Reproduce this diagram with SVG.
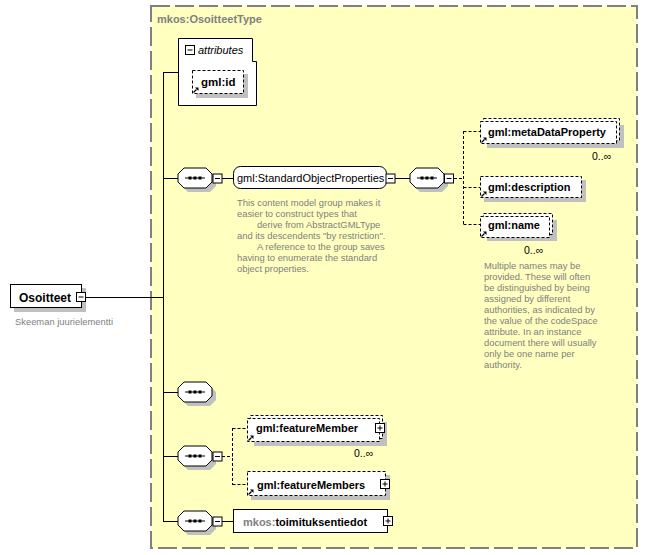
<svg xmlns="http://www.w3.org/2000/svg" xmlns:xlink="http://www.w3.org/1999/xlink" width="649" height="555" viewBox="0 0 649 555">
<style>
.lbl{font-family:"Liberation Sans",Arial,sans-serif;font-size:11px;fill:#000}
.b{font-weight:bold}
.desc{font-family:"Liberation Sans",Arial,sans-serif;font-size:9.4px;fill:#808080}
.card{font-family:"Liberation Sans",Arial,sans-serif;font-size:10.5px;fill:#000}
.ln{stroke:#000;stroke-width:1;fill:none}
.dl{stroke:#000;stroke-width:1;fill:none;stroke-dasharray:3,2}
.box{fill:#fff;stroke:#000;stroke-width:1}
.dbox{fill:#fff;stroke:#000;stroke-width:1;stroke-dasharray:3,2}
.sh{fill:#c0c0c0}
</style>
<defs>
<g id="seq">
<polygon class="sh" points="10,4 32,4 38,10 38,18 32,24 10,24 4,18 4,10"/>
<polygon class="box" points="6,0 28,0 34,6 34,14 28,20 6,20 0,14 0,6"/>
<line x1="7" y1="10" x2="27" y2="10" stroke="#000" stroke-width="1"/>
<rect x="10.5" y="8.5" width="3" height="3" fill="#000"/>
<rect x="15.5" y="8.5" width="3" height="3" fill="#000"/>
<rect x="20.5" y="8.5" width="3" height="3" fill="#000"/>
</g>
<g id="minus">
<rect x="0.5" y="0.5" width="9" height="9" class="box"/>
<line x1="2.5" y1="5" x2="7.5" y2="5" stroke="#000"/>
</g>
<g id="plus">
<rect x="0.5" y="0.5" width="9" height="9" class="box"/>
<line x1="2.5" y1="5" x2="7.5" y2="5" stroke="#000"/>
<line x1="5" y1="2.5" x2="5" y2="7.5" stroke="#000"/>
</g>
<g id="ref">
<path d="M0.5,5.5 L3.5,2.5" stroke="#000" stroke-width="1.3"/>
<polygon points="2,0.5 5.5,0.5 5.5,4" fill="#000"/>
</g>
</defs>

<rect width="649" height="555" fill="#fff"/>

<g id="OsoitteetType">
<rect x="151" y="6" width="486" height="542" fill="#ffffc0" stroke="#808080" stroke-width="2" stroke-dasharray="19,5"/>
<text x="157" y="23" class="lbl b" style="fill:#808080">mkos:OsoitteetType</text>
</g>

<g id="connectors">
<line class="ln" x1="86" y1="297.5" x2="163.5" y2="297.5"/>
<line class="ln" x1="163.5" y1="72" x2="163.5" y2="522"/>
<line class="ln" x1="163" y1="72.5" x2="178" y2="72.5"/>
<line class="ln" x1="163" y1="178.5" x2="178" y2="178.5"/>
<line class="ln" x1="222" y1="178.5" x2="233" y2="178.5"/>
<line class="ln" x1="395" y1="178.5" x2="410" y2="178.5"/>
<line class="dl" x1="454" y1="178.5" x2="463.5" y2="178.5"/>
<line class="dl" x1="463.5" y1="131" x2="463.5" y2="225"/>
<line class="dl" x1="463.5" y1="131.5" x2="480" y2="131.5"/>
<line class="dl" x1="463.5" y1="187.5" x2="480" y2="187.5"/>
<line class="dl" x1="463.5" y1="224.5" x2="480" y2="224.5"/>
<line class="ln" x1="163" y1="392.5" x2="178" y2="392.5"/>
<line class="ln" x1="163" y1="456.5" x2="178" y2="456.5"/>
<line class="dl" x1="222" y1="456.5" x2="232.5" y2="456.5"/>
<line class="dl" x1="232.5" y1="428" x2="232.5" y2="485"/>
<line class="dl" x1="232.5" y1="428.5" x2="247" y2="428.5"/>
<line class="dl" x1="232.5" y1="484.5" x2="247" y2="484.5"/>
<line class="ln" x1="163" y1="521.5" x2="178" y2="521.5"/>
<line class="ln" x1="222" y1="521.5" x2="233" y2="521.5"/>
</g>

<g id="Osoitteet">
<rect x="14" y="288" width="72" height="24" class="sh"/>
<rect x="10.5" y="284.5" width="71" height="23" class="box"/>
<text x="19" y="302" class="lbl b" style="font-size:12px">Osoitteet</text>
<use xlink:href="#minus" x="76" y="292"/>
<text x="15" y="325" class="desc">Skeeman juurielementti</text>
</g>

<g id="attributes">
<path d="M178.5,38.5 H252.5 V61.5 H256.5 V105.5 H178.5 Z" class="box"/>
<use xlink:href="#minus" x="185" y="45"/>
<text x="198" y="54" class="lbl" font-style="italic">attributes</text>
</g>

<g id="gml_id">
<rect x="196" y="74" width="52" height="24" class="sh"/>
<rect x="192.5" y="70.5" width="51" height="23" class="dbox"/>
<text x="201" y="86" class="lbl b" style="font-size:11.5px">gml:id</text>
<use xlink:href="#ref" x="193" y="87"/>
</g>

<g id="seq1">
<use xlink:href="#seq" x="178" y="168"/>
<use xlink:href="#minus" x="212.5" y="173.5"/>
</g>

<g id="StandardObjectProperties">
<rect x="233.5" y="166.5" width="153" height="22" rx="7" ry="7" class="box"/>
<text x="237" y="182" class="lbl">gml:StandardObjectProperties</text>
<use xlink:href="#minus" x="385.5" y="173.5"/>
<text class="desc">
<tspan x="237" y="206">This content model group makes it</tspan>
<tspan x="237" y="217">easier to construct types that</tspan>
<tspan x="257" y="228">derive from AbstractGMLType</tspan>
<tspan x="237" y="239">and its descendents "by restriction".</tspan>
<tspan x="257" y="250">A reference to the group saves</tspan>
<tspan x="237" y="261">having to enumerate the standard</tspan>
<tspan x="237" y="272">object properties.</tspan>
</text>
</g>

<g id="seq2">
<use xlink:href="#seq" x="410" y="168"/>
<use xlink:href="#minus" x="444" y="173.5"/>
</g>

<g id="metaDataProperty">
<rect x="487" y="125" width="137" height="23" class="sh"/>
<rect x="483.5" y="118.5" width="136" height="22" class="dbox"/>
<rect x="480.5" y="121.5" width="136" height="22" class="dbox"/>
<text x="488" y="136" class="lbl b">gml:metaDataProperty</text>
<use xlink:href="#ref" x="481" y="137"/>
<text x="592" y="160" class="card">0..∞</text>
</g>

<g id="description">
<rect x="484" y="180" width="102" height="22" class="sh"/>
<rect x="480.5" y="176.5" width="101" height="21" class="dbox"/>
<text x="488" y="191" class="lbl b">gml:description</text>
<use xlink:href="#ref" x="481" y="191"/>
</g>

<g id="name">
<rect x="487" y="220" width="70" height="21" class="sh"/>
<rect x="483.5" y="213.5" width="69" height="21" class="dbox"/>
<rect x="480.5" y="216.5" width="69" height="21" class="dbox"/>
<text x="488" y="229" class="lbl b">gml:name</text>
<use xlink:href="#ref" x="481" y="231"/>
<text x="524" y="254" class="card">0..∞</text>
<text class="desc">
<tspan x="484" y="269">Multiple names may be</tspan>
<tspan x="484" y="280">provided.  These will often</tspan>
<tspan x="484" y="291">be distinguished by being</tspan>
<tspan x="484" y="302">assigned by different</tspan>
<tspan x="484" y="313">authorities, as indicated by</tspan>
<tspan x="484" y="324">the value of the codeSpace</tspan>
<tspan x="484" y="335">attribute.  In an instance</tspan>
<tspan x="484" y="346">document there will usually</tspan>
<tspan x="484" y="357">only be one name per</tspan>
<tspan x="484" y="368">authority.</tspan>
</text>
</g>

<g id="seq3">
<use xlink:href="#seq" x="178" y="382"/>
</g>

<g id="seq4">
<use xlink:href="#seq" x="178" y="446"/>
<use xlink:href="#minus" x="212.5" y="451.5"/>
</g>

<g id="featureMember">
<rect x="254" y="422" width="133" height="24" class="sh"/>
<rect x="250.5" y="415.5" width="132" height="23" class="dbox"/>
<rect x="247.5" y="418.5" width="132" height="23" class="dbox"/>
<text x="256" y="432" class="lbl b">gml:featureMember</text>
<use xlink:href="#ref" x="248" y="435"/>
<use xlink:href="#plus" x="375" y="423"/>
<text x="354" y="457" class="card">0..∞</text>
</g>

<g id="featureMembers">
<rect x="251" y="475" width="139" height="25" class="sh"/>
<rect x="247.5" y="471.5" width="138" height="24" class="dbox"/>
<text x="257" y="489" class="lbl b">gml:featureMembers</text>
<use xlink:href="#ref" x="248" y="489"/>
<use xlink:href="#plus" x="380" y="479"/>
</g>

<g id="seq5">
<use xlink:href="#seq" x="178" y="511"/>
<use xlink:href="#minus" x="212.5" y="516.5"/>
</g>

<g id="toimituksentiedot">
<rect x="233.5" y="509.5" width="154" height="23" class="box"/>
<text x="243" y="526" class="lbl b"><tspan fill="#808080">mkos:</tspan>toimituksentiedot</text>
<use xlink:href="#plus" x="383" y="516"/>
</g>
</svg>
